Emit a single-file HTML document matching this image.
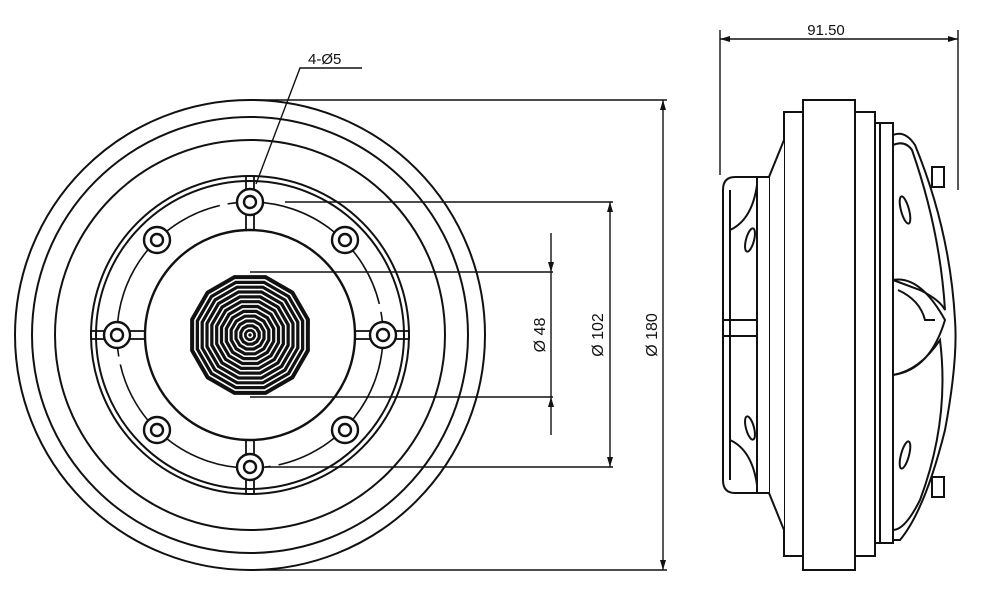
<!DOCTYPE html>
<html><head><meta charset="utf-8"><style>
html,body{margin:0;padding:0;background:#fff;}
svg{display:block;}
text{font-family:"Liberation Sans",sans-serif;fill:#111;}
</style></head><body>
<svg width="1000" height="600" viewBox="0 0 1000 600" xmlns="http://www.w3.org/2000/svg">
<defs>
<marker id="ar" viewBox="0 0 10 6" refX="10" refY="3" markerWidth="10" markerHeight="6" orient="auto-start-reverse" markerUnits="userSpaceOnUse">
<path d="M0,0 L10,3 L0,6 z" fill="#111"/></marker>
</defs>
<g fill="none" stroke="#111" stroke-width="2">
<circle cx="250" cy="335" r="235"/>
<circle cx="250" cy="335" r="218"/>
<circle cx="250" cy="335" r="195"/>
<circle cx="250" cy="335" r="159"/>
<circle cx="250" cy="335" r="154"/>
<circle cx="250" cy="335" r="133" stroke-width="1.6" stroke-dasharray="180 8 12 8"/>
<circle cx="250" cy="335" r="105" stroke-width="2.4"/>
<g stroke-width="1.8">
<rect x="246" y="176" width="8" height="54"/>
<rect x="246" y="440" width="8" height="54"/>
<rect x="91" y="331" width="54" height="8"/>
<rect x="355" y="331" width="54" height="8"/>
</g>
<g fill="#fff" stroke-width="2.4">
<circle cx="250" cy="202" r="13"/><circle cx="250" cy="202" r="6"/>
<circle cx="250" cy="467" r="13"/><circle cx="250" cy="467" r="6"/>
<circle cx="117" cy="335" r="13"/><circle cx="117" cy="335" r="6"/>
<circle cx="383" cy="335" r="13"/><circle cx="383" cy="335" r="6"/>
<circle cx="157" cy="240" r="13"/><circle cx="157" cy="240" r="6"/>
<circle cx="345" cy="240" r="13"/><circle cx="345" cy="240" r="6"/>
<circle cx="157" cy="430" r="13"/><circle cx="157" cy="430" r="6"/>
<circle cx="345" cy="430" r="13"/><circle cx="345" cy="430" r="6"/>
</g>
</g>
<g transform="translate(250,335)">
<polygon fill="#111" points="62,0 53.7,31 31,53.7 0,62 -31,53.7 -53.7,31 -62,0 -53.7,-31 -31,-53.7 0,-62 31,-53.7 53.7,-31" transform="rotate(15)"/>
<g fill="none" stroke="#fff" stroke-width="1.6" transform="rotate(15)">
<polygon points="57,0 49.4,28.5 28.5,49.4 0,57 -28.5,49.4 -49.4,28.5 -57,0 -49.4,-28.5 -28.5,-49.4 0,-57 28.5,-49.4 49.4,-28.5"/>
<polygon points="52,0 45,26 26,45 0,52 -26,45 -45,26 -52,0 -45,-26 -26,-45 0,-52 26,-45 45,-26"/>
<polygon points="47,0 40.7,23.5 23.5,40.7 0,47 -23.5,40.7 -40.7,23.5 -47,0 -40.7,-23.5 -23.5,-40.7 0,-47 23.5,-40.7 40.7,-23.5"/>
<polygon points="42,0 36.4,21 21,36.4 0,42 -21,36.4 -36.4,21 -42,0 -36.4,-21 -21,-36.4 0,-42 21,-36.4 36.4,-21"/>
<polygon points="37,0 32,18.5 18.5,32 0,37 -18.5,32 -32,18.5 -37,0 -32,-18.5 -18.5,-32 0,-37 18.5,-32 32,-18.5"/>
<polygon points="32,0 27.7,16 16,27.7 0,32 -16,27.7 -27.7,16 -32,0 -27.7,-16 -16,-27.7 0,-32 16,-27.7 27.7,-16"/>
<polygon points="27,0 23.4,13.5 13.5,23.4 0,27 -13.5,23.4 -23.4,13.5 -27,0 -23.4,-13.5 -13.5,-23.4 0,-27 13.5,-23.4 23.4,-13.5"/>
<polygon points="22,0 19,11 11,19 0,22 -11,19 -19,11 -22,0 -19,-11 -11,-19 0,-22 11,-19 19,-11"/>
<polygon points="17,0 14.7,8.5 8.5,14.7 0,17 -8.5,14.7 -14.7,8.5 -17,0 -14.7,-8.5 -8.5,-14.7 0,-17 8.5,-14.7 14.7,-8.5"/>
<polygon points="12,0 10.4,6 6,10.4 0,12 -6,10.4 -10.4,6 -12,0 -10.4,-6 -6,-10.4 0,-12 6,-10.4 10.4,-6"/>
<polygon points="7,0 6,3.5 3.5,6 0,7 -3.5,6 -6,3.5 -7,0 -6,-3.5 -3.5,-6 0,-7 3.5,-6 6,-3.5"/>
<circle r="2.5"/>
</g>
</g>
<g fill="none" stroke="#111" stroke-width="1.4">
<line x1="250" y1="100" x2="667" y2="100"/>
<line x1="250" y1="570" x2="667" y2="570"/>
<line x1="663" y1="100" x2="663" y2="570" marker-start="url(#ar)" marker-end="url(#ar)"/>
<line x1="285" y1="202" x2="613" y2="202"/>
<line x1="265" y1="467" x2="613" y2="467"/>
<line x1="610" y1="202" x2="610" y2="467" marker-start="url(#ar)" marker-end="url(#ar)"/>
<line x1="250" y1="272" x2="553" y2="272"/>
<line x1="250" y1="397" x2="553" y2="397"/>
<line x1="551" y1="233" x2="551" y2="272" marker-end="url(#ar)"/>
<line x1="551" y1="435" x2="551" y2="397" marker-end="url(#ar)"/>
<line x1="551" y1="272" x2="551" y2="397"/>
<polyline points="256,184 300,68 362,68"/>
<line x1="720" y1="30" x2="720" y2="175"/>
<line x1="958" y1="30" x2="958" y2="190"/>
<line x1="720" y1="39" x2="958" y2="39" marker-start="url(#ar)" marker-end="url(#ar)"/>
</g>
<text x="308" y="64" font-size="15">4-Ø5</text>
<text x="826" y="35" font-size="15" text-anchor="middle">91.50</text>
<text transform="translate(545,335) rotate(-90)" font-size="16" text-anchor="middle">Ø 48</text>
<text transform="translate(603,335) rotate(-90)" font-size="16" text-anchor="middle">Ø 102</text>
<text transform="translate(657,335) rotate(-90)" font-size="16" text-anchor="middle">Ø 180</text>
<g fill="#fff" stroke="#111" stroke-width="2">
<rect x="803" y="100" width="52" height="470"/>
<rect x="784" y="112" width="19" height="444"/>
<rect x="855" y="112" width="20" height="444"/>
<rect x="875" y="123" width="18" height="420"/>
<line x1="880" y1="123" x2="880" y2="543"/>
<polyline points="784,140 769,177 769,493 784,530"/>
<path d="M769,177 L735,177 Q723,177 723,190 L723,480 Q723,493 735,493 L769,493"/>
<line x1="730" y1="190" x2="730" y2="480" fill="none"/>
<line x1="757" y1="177" x2="757" y2="493" fill="none"/>
<rect x="723" y="320" width="34" height="16" fill="none"/>
<path d="M730,230 Q752,220 757,185" fill="none"/>
<path d="M730,440 Q752,450 757,485" fill="none"/>
<ellipse cx="750" cy="240" rx="4" ry="12" transform="rotate(15 750 240)"/>
<ellipse cx="750" cy="428" rx="4" ry="12" transform="rotate(-15 750 428)"/>
<path d="M893,135 Q905,130 915,145 Q950,230 955,320 Q958,360 945,430 Q925,510 900,540 L893,540 Z"/>
<path d="M893,145 Q905,140 912,150 Q940,230 945,310 Q940,300 920,290 L893,280" fill="none"/>
<path d="M893,375 Q920,370 940,340 Q950,420 920,500 Q905,530 893,530" fill="none"/>
<path d="M893,280 Q920,275 945,320 Q930,370 893,375" fill="none"/>
<path d="M898,290 Q920,300 925,320 L935,320" fill="none"/>
<ellipse cx="905" cy="210" rx="4" ry="14" transform="rotate(-15 905 210)"/>
<ellipse cx="905" cy="455" rx="4" ry="14" transform="rotate(15 905 455)"/>
<rect x="932" y="167" width="12" height="20"/>
<rect x="932" y="477" width="12" height="20"/>
</g>
</svg>
</body></html>
